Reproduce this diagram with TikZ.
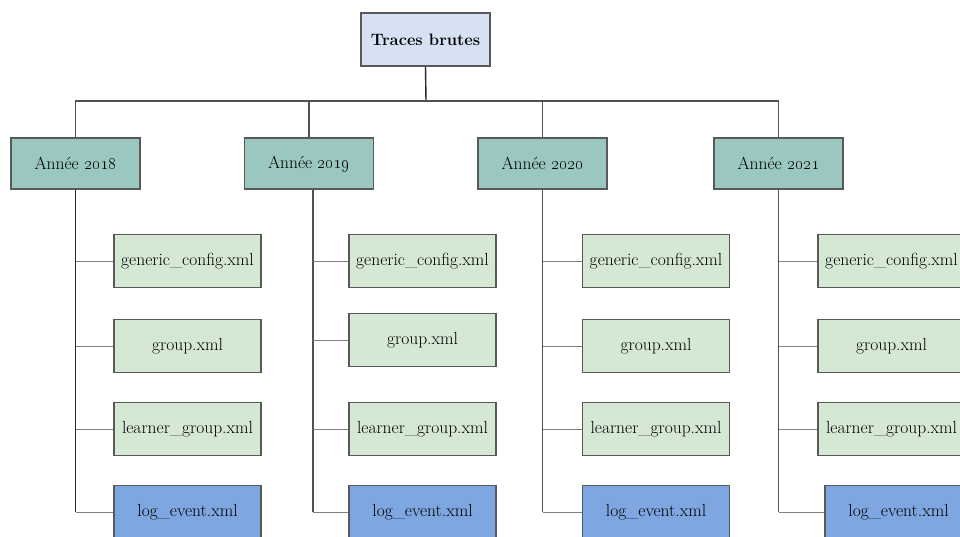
\documentclass[tikz,border=0pt]{standalone}
\usetikzlibrary{calc}
\definecolor{rootfill}{HTML}{D6E2F3}
\definecolor{yearfill}{HTML}{9AC7BF}
\definecolor{filefill}{HTML}{D5E8D4}
\definecolor{logfill}{HTML}{7EA6E0}
\definecolor{edge}{HTML}{595959}
\definecolor{trunk}{HTML}{262626}
\definecolor{twig}{HTML}{7F7F7F}
\begin{document}
\begin{tikzpicture}[x=1pt,y=-1pt,
  box/.style={draw=edge, line width=1.2pt, inner sep=0pt, font=\fontsize{17.5}{20}\selectfont},
  rootbox/.style={box, fill=rootfill, minimum width=129pt, minimum height=53pt, font=\fontsize{16.5}{19}\selectfont\bfseries},
  yearbox/.style={box, fill=yearfill, minimum width=129pt, minimum height=51pt},
  filebox/.style={box, fill=filefill, minimum width=147pt, minimum height=53pt},
  logbox/.style={box, fill=logfill, minimum width=147pt, minimum height=53pt},
  trunkline/.style={draw=trunk, line width=1.4pt},
  stemline/.style={draw=trunk!80, line width=1.1pt},
  twigline/.style={draw=twig, line width=1pt}]
\clip (0,0) rectangle (960,536);
\useasboundingbox (0,0) rectangle (960,536);
\fill[white] (0,0) rectangle (960,536);

\node[rootbox] (tb) at (425.5,39.5) {Traces brutes};
\coordinate (hub) at (426,101);

\node[yearbox] (y18) at (75.5,163.5) {Ann\'ee \oldstylenums{2018}};
\node[yearbox] (y19) at (309,163.5) {Ann\'ee \oldstylenums{2019}};
\node[yearbox] (y20) at (542.5,163.5) {Ann\'ee \oldstylenums{2020}};
\node[yearbox] (y21) at (778.5,163.5) {Ann\'ee \oldstylenums{2021}};

% column 2018
\node[filebox] (g18) at (187.5,261) {generic\_config.xml};
\node[filebox] (p18) at (187.5,346) {group.xml};
\node[filebox] (l18) at (187.5,429) {learner\_group.xml};
\node[logbox]  (e18) at (187.5,512) {log\_event.xml};
% column 2019
\node[filebox] (g19) at (422.5,261) {generic\_config.xml};
\node[filebox] (p19) at (422.5,340) {group.xml};
\node[filebox] (l19) at (422.5,429) {learner\_group.xml};
\node[logbox]  (e19) at (422.5,512) {log\_event.xml};
% column 2020
\node[filebox] (g20) at (656,261) {generic\_config.xml};
\node[filebox] (p20) at (656,346) {group.xml};
\node[filebox] (l20) at (656,429) {learner\_group.xml};
\node[logbox]  (e20) at (656,512) {log\_event.xml};
% column 2021
\node[filebox] (g21) at (891.5,261) {generic\_config.xml};
\node[filebox] (p21) at (891.5,346) {group.xml};
\node[filebox] (l21) at (891.5,429) {learner\_group.xml};
\node[logbox]  (e21) at (898.5,512) {log\_event.xml};

% top tree
\draw[trunkline] (tb.south) -- (hub);
\draw[stemline] (y18.north) -- (y18.north |- hub) -- (y21.north |- hub) -- (y21.north);
\draw[stemline] (y19.north) -- (y19.north |- hub);
\draw[stemline] (y20.north) -- (y20.north |- hub);

% spines
\coordinate (s18) at (y18.south);
\coordinate (s19) at ($(y19.south)+(4,0)$);
\coordinate (s20) at (y20.south);
\coordinate (s21) at (y21.south);
\draw[trunkline] (s18) -- (s18 |- e18.west);
\foreach \y in {19,20,21}{
  \draw[stemline] (s\y) -- (s\y |- e\y.west);
}
\foreach \y in {18,19,20,21}{
  \foreach \c in {g,p,l,e}{
    \draw[twigline] (\c\y.west) -- (\c\y.west -| s\y);
  }
}
\end{tikzpicture}
\end{document}
